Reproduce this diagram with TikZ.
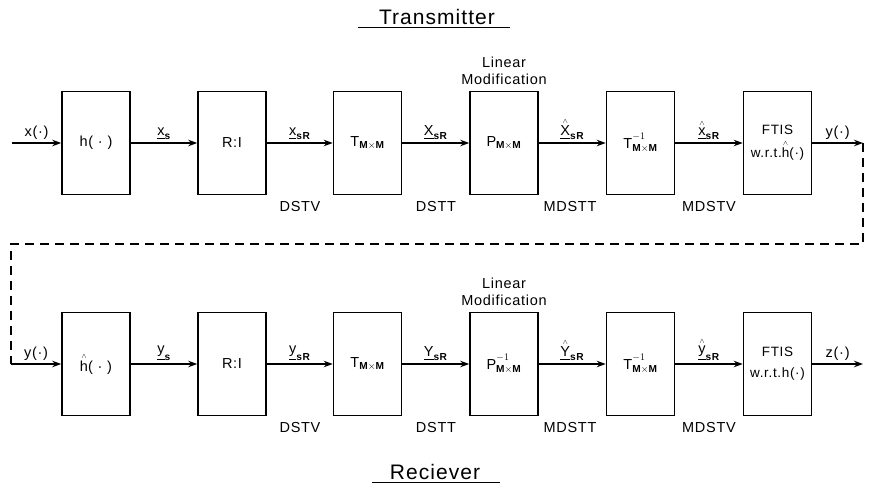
\documentclass[tikz,border=0pt]{standalone}
\usepackage{amsmath}
\usepackage{fontspec}
\setmainfont{Liberation Sans}[LetterSpace=5]
\setsansfont{Liberation Sans}[LetterSpace=5]
\usetikzlibrary{arrows.meta,positioning}
\newcommand{\mxm}{\text{\bfseries M}{\times}\text{\bfseries M}}
\newcommand{\hatof}[1]{\overset{\scriptscriptstyle\wedge}{#1}}
\newcommand{\inv}{\raisebox{2pt}{$\scriptstyle-1$}}

\begin{document}
\begin{tikzpicture}[x=1pt,y=-1pt,>={Stealth[length=9pt,width=6.5pt]},
  font=\fontsize{14.5}{17}\selectfont,
  blockbox/.style={draw,line width=1.6pt,minimum width=68pt,minimum height=103pt,inner sep=0pt,align=center},
  flow/.style={->,line width=1.3pt},
  siglabel/.style={above,inner sep=3pt},
  heading/.style={font=\fontsize{21}{24}\selectfont}]
  \useasboundingbox (0,0) rectangle (871,487);
  % transmitter
  \node[heading] (ttl) at (437,17) {Transmitter};
  \draw[line width=1.2pt] ([xshift=-18pt,yshift=-3pt]ttl.base west) -- ([xshift=12pt,yshift=-3pt]ttl.base east);
  \node[blockbox] (hx) at (96,143) {h( · )};
  \node[blockbox] (rx) at (232,143) {R:I};
  \node[blockbox] (tx) at (367.5,143) {$\text{T}_{\mxm}$};
  \node[blockbox] (px) at (504,143) {$\text{P}_{\mxm}$};
  \node[blockbox] (tix) at (640.5,143) {$\text{T}^{\inv}_{\mxm}$};
  \node[blockbox,font=\fontsize{13.5}{17}\selectfont] (fx) at (777.5,143) {FTIS\\[4pt]w.r.t.$\hatof{\text{h}}$(·)};
  \node[above=6pt of px,align=center,inner sep=0pt] (lmx) {Linear\\Modification};
  \coordinate (xin) at (12,143);
  \coordinate (yout) at (863,143);
  \draw[flow] (xin) -- (hx) node[midway,siglabel] {x(·)};
  \draw[flow] (hx) -- (rx) node[midway,siglabel] {$\underline{\text{x}}_{\text{\bfseries s}}$};
  \draw[flow] (rx) -- (tx) node[midway,siglabel] {$\underline{\text{x}}_{\text{\bfseries sR}}$};
  \draw[flow] (tx) -- (px) node[midway,siglabel] {$\underline{\text{X}}_{\text{\bfseries sR}}$};
  \draw[flow] (px) -- (tix) node[midway,siglabel] {$\hatof{\underline{\text{X}}}_{\text{\bfseries sR}}$};
  \draw[flow] (tix) -- (fx) node[midway,siglabel] {$\hatof{\underline{\text{x}}}_{\text{\bfseries sR}}$};
  \draw[flow] (fx) -- (yout) node[midway,siglabel] {y(·)};
  \node at (300,207) {DSTV};
  \node at (436,207) {DSTT};
  \node at (570,207) {MDSTT};
  \node at (709,207) {MDSTV};
  % channel
  \coordinate (yin) at (11,364);
  \draw[line width=1.3pt,dash pattern=on 9pt off 6pt] (yout) -- ++(0,101) -| (yin);
  % reciever
  \node[blockbox] (hy) at (96,364) {$\hatof{\text{h}}$( · )};
  \node[blockbox] (ry) at (232,364) {R:I};
  \node[blockbox] (ty) at (367.5,364) {$\text{T}_{\mxm}$};
  \node[blockbox] (py) at (504,364) {$\text{P}^{\inv}_{\mxm}$};
  \node[blockbox] (tiy) at (640.5,364) {$\text{T}^{\inv}_{\mxm}$};
  \node[blockbox,font=\fontsize{13.5}{17}\selectfont] (fy) at (777.5,364) {FTIS\\[4pt]w.r.t.h(·)};
  \node[above=6pt of py,align=center,inner sep=0pt] (lmy) {Linear\\Modification};
  \coordinate (zout) at (863,364);
  \draw[flow] (yin) -- (hy) node[midway,siglabel] {y(·)};
  \draw[flow] (hy) -- (ry) node[midway,siglabel] {$\underline{\text{y}}_{\text{\bfseries s}}$};
  \draw[flow] (ry) -- (ty) node[midway,siglabel] {$\underline{\text{y}}_{\text{\bfseries sR}}$};
  \draw[flow] (ty) -- (py) node[midway,siglabel] {$\underline{\text{Y}}_{\text{\bfseries sR}}$};
  \draw[flow] (py) -- (tiy) node[midway,siglabel] {$\hatof{\underline{\text{Y}}}_{\text{\bfseries sR}}$};
  \draw[flow] (tiy) -- (fy) node[midway,siglabel] {$\hatof{\underline{\text{y}}}_{\text{\bfseries sR}}$};
  \draw[flow] (fy) -- (zout) node[midway,siglabel] {z(·)};
  \node at (300,428) {DSTV};
  \node at (436,428) {DSTT};
  \node at (570,428) {MDSTT};
  \node at (709,428) {MDSTV};
  \node[heading] (rcv) at (435,472) {Reciever};
  \draw[line width=1.2pt] ([xshift=-14pt,yshift=-3pt]rcv.base west) -- ([xshift=16pt,yshift=-3pt]rcv.base east);
\end{tikzpicture}
\end{document}
